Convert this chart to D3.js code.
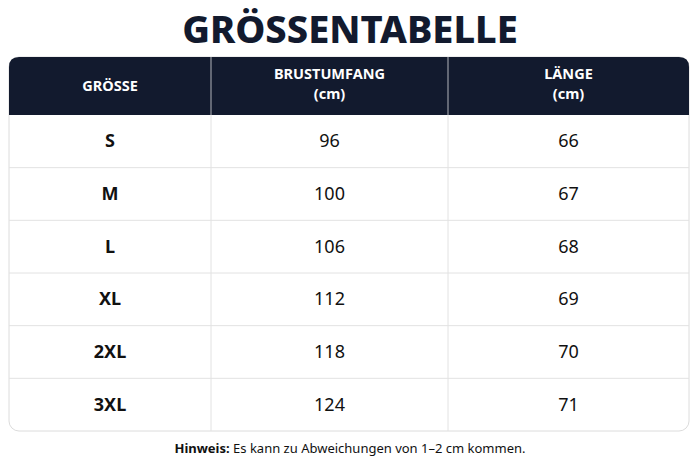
<!DOCTYPE html>
<html><head><meta charset="utf-8">
<script src="https://cdn.jsdelivr.net/npm/d3@7"></script>
<style>body{margin:0;background:#fff}</style>
</head><body>
<script>
const sizes = ["S", "M", "L", "XL", "2XL", "3XL"];
const chestCm = [96, 100, 106, 112, 118, 124];
const lengthCm = [66, 67, 68, 69, 70, 71];
const headers = [["GRÖSSE"], ["BRUSTUMFANG", "(cm)"], ["LÄNGE", "(cm)"]];

const W = 700, H = 467;
const navy = "#121a2e";
const font = "'Noto Sans', 'Open Sans', sans-serif";
const svg = d3.select("body").append("svg").attr("width", W).attr("height", H);

const x0 = 9, x1 = 689, tTop = 57, headH = 58, tBottom = 431;
const colEdges = [x0, 211, 448, x1];
const y = d3.scaleBand().domain(sizes).range([tTop + headH, tBottom]);

svg.append("text").attr("x", W / 2).attr("y", 43).attr("text-anchor", "middle")
  .attr("font-family", font).attr("font-weight", 800).attr("font-size", 38)
  .attr("fill", navy).text("GRÖSSENTABELLE");

// table outline
svg.append("rect").attr("x", x0).attr("y", tTop).attr("width", x1 - x0).attr("height", tBottom - tTop)
  .attr("rx", 10).attr("fill", "#fff").attr("stroke", "#dcdcdc");
// header
const r = 10;
svg.append("path").attr("fill", navy)
  .attr("d", `M${x0},${tTop + headH}V${tTop + r}Q${x0},${tTop} ${x0 + r},${tTop}H${x1 - r}Q${x1},${tTop} ${x1},${tTop + r}V${tTop + headH}Z`);

// row lines
svg.selectAll(".row").data(sizes.slice(1)).join("line")
  .attr("x1", x0).attr("x2", x1).attr("y1", d => y(d)).attr("y2", d => y(d))
  .attr("stroke", "#e2e2e2");
// column lines
svg.selectAll(".col").data(colEdges.slice(1, 3)).join("line")
  .attr("x1", d => d).attr("x2", d => d).attr("y1", tTop).attr("y2", tBottom)
  .attr("stroke", "#e2e2e2");
svg.selectAll(".colh").data(colEdges.slice(1, 3)).join("line")
  .attr("x1", d => d).attr("x2", d => d).attr("y1", tTop).attr("y2", tTop + headH)
  .attr("stroke", "#4a5060");

const cx = i => (colEdges[i] + colEdges[i + 1]) / 2;
headers.forEach((lines, i) => {
  const t = svg.append("text").attr("text-anchor", "middle").attr("font-family", font)
    .attr("font-weight", 700).attr("font-size", 14.5).attr("fill", "#fff");
  lines.forEach((l, j) => {
    const yy = lines.length === 1 ? tTop + headH / 2 + 5 : tTop + 22 + j * 20;
    t.append("tspan").attr("x", cx(i)).attr("y", yy).text(l);
  });
});

const cols = [sizes, chestCm, lengthCm];
cols.forEach((vals, i) => {
  svg.selectAll(null).data(vals).join("text")
    .attr("x", cx(i)).attr("y", (d, k) => y(sizes[k]) + y.bandwidth() / 2 + 6)
    .attr("text-anchor", "middle").attr("font-family", font)
    .attr("font-weight", i === 0 ? 700 : 400).attr("font-size", 18).attr("fill", "#111")
    .text(d => d);
});

const note = svg.append("text").attr("x", W / 2).attr("y", 453).attr("text-anchor", "middle")
  .attr("font-family", font).attr("font-size", 13).attr("fill", "#111");
note.append("tspan").attr("font-weight", 700).text("Hinweis:");
note.append("tspan").text(" Es kann zu Abweichungen von 1–2 cm kommen.");
</script>
</body></html>
